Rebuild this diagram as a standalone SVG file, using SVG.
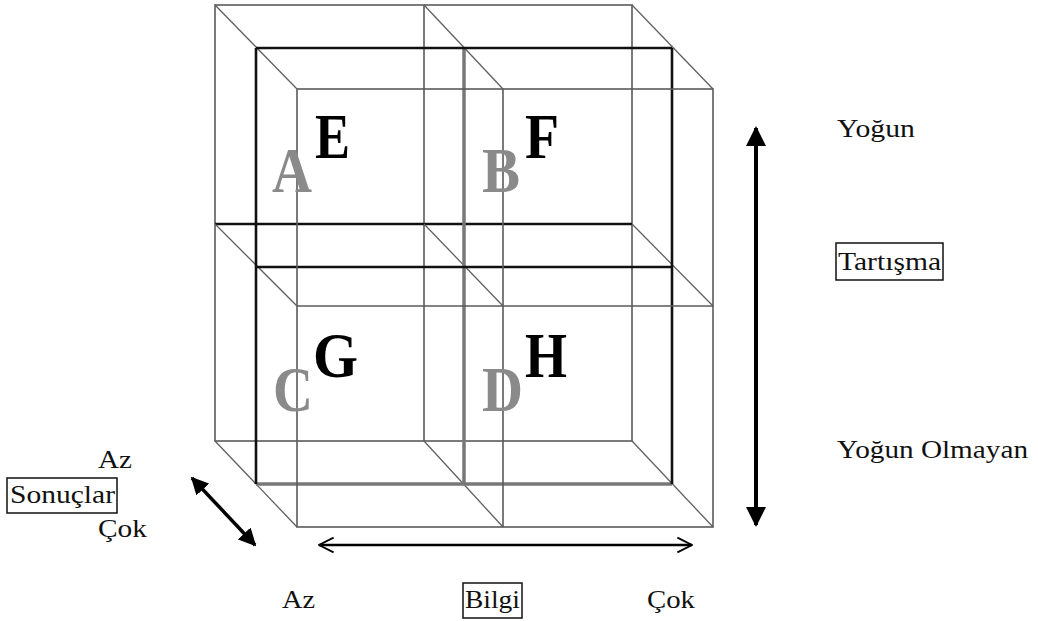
<svg xmlns="http://www.w3.org/2000/svg" width="1038" height="621" viewBox="0 0 1038 621">
<style>
.thin{stroke:#5a5a5a;stroke-width:1.6;fill:none}
.diag{stroke:#606060;stroke-width:1.3;fill:none}
.thick{stroke:#111;stroke-width:2.6;fill:none}
.gthick{stroke:#777;stroke-width:3.5;fill:none}
.gl{font-family:"Liberation Serif","Times New Roman",serif;font-weight:bold;font-size:64px;fill:#8a8a8a}
.bl{font-family:"Liberation Serif","Times New Roman",serif;font-weight:bold;font-size:64px;fill:#000}
.lab{font-family:"Liberation Serif","Times New Roman",serif;font-size:26px;fill:#111}
.box{fill:none;stroke:#111;stroke-width:1.5}
</style>
<defs>
<marker id="tri" viewBox="0 0 10 10" refX="9" refY="5" markerWidth="5" markerHeight="5" orient="auto-start-reverse" markerUnits="strokeWidth">
<path d="M0,0 L10,5 L0,10 z" fill="#000"/>
</marker>
<marker id="chev" viewBox="0 0 12 12" refX="11" refY="6" markerWidth="7" markerHeight="7" orient="auto-start-reverse" markerUnits="strokeWidth">
<path d="M1,1 L11,6 L1,11" fill="none" stroke="#000" stroke-width="1.3"/>
</marker>
</defs>
<rect width="1038" height="621" fill="#fff"/>
<g id="cube">
<g id="back-frame">
<rect class="thin" x="215" y="5" width="417" height="436"/>
<line class="thin" x1="424" y1="5" x2="424" y2="441"/>
<line class="thick" x1="215" y1="224" x2="632" y2="224"/>
</g>
<g id="diagonals">
<line class="diag" x1="215" y1="5" x2="297" y2="89"/>
<line class="diag" x1="424" y1="5" x2="503" y2="89"/>
<line class="diag" x1="632" y1="5" x2="713" y2="89"/>
<line class="diag" x1="215" y1="224" x2="297" y2="306"/>
<line class="diag" x1="424" y1="224" x2="503" y2="306"/>
<line class="diag" x1="632" y1="224" x2="713" y2="306"/>
<line class="diag" x1="215" y1="441" x2="297" y2="527"/>
<line class="diag" x1="424" y1="441" x2="503" y2="527"/>
<line class="diag" x1="632" y1="441" x2="713" y2="527"/>
</g>
<g id="middle-frame">
<line class="gthick" x1="464" y1="48" x2="464" y2="484"/>
<line class="gthick" x1="256" y1="484" x2="672" y2="484"/>
<line class="thick" x1="256" y1="48" x2="672" y2="48"/>
<line class="thick" x1="256" y1="267" x2="672" y2="267"/>
<line class="thick" x1="256" y1="48" x2="256" y2="484"/>
<line class="thick" x1="672" y1="48" x2="672" y2="484"/>
</g>
<g id="front-frame">
<rect class="thin" x="297" y="89" width="416" height="438"/>
<line class="thin" x1="503" y1="89" x2="503" y2="527"/>
<line class="thin" x1="297" y1="306" x2="713" y2="306"/>
</g>
</g>
<g id="cell-A"><text class="gl" x="272" y="192" textLength="40" lengthAdjust="spacingAndGlyphs">A</text></g>
<g id="cell-E"><text class="bl" x="315" y="158" textLength="35" lengthAdjust="spacingAndGlyphs">E</text></g>
<g id="cell-B"><text class="gl" x="482" y="192" textLength="38" lengthAdjust="spacingAndGlyphs">B</text></g>
<g id="cell-F"><text class="bl" x="525" y="158" textLength="34" lengthAdjust="spacingAndGlyphs">F</text></g>
<g id="cell-C"><text class="gl" x="273" y="411" textLength="40" lengthAdjust="spacingAndGlyphs">C</text></g>
<g id="cell-G"><text class="bl" x="313" y="377" textLength="45" lengthAdjust="spacingAndGlyphs">G</text></g>
<g id="cell-D"><text class="gl" x="482" y="411" textLength="41" lengthAdjust="spacingAndGlyphs">D</text></g>
<g id="cell-H"><text class="bl" x="525" y="377" textLength="42" lengthAdjust="spacingAndGlyphs">H</text></g>
<g id="connectors">
<line x1="756" y1="128" x2="756" y2="525" stroke="#000" stroke-width="4" marker-start="url(#tri)" marker-end="url(#tri)"/>
<line x1="192" y1="478" x2="255" y2="545" stroke="#000" stroke-width="3.5" marker-start="url(#tri)" marker-end="url(#tri)"/>
<line x1="319" y1="545" x2="692" y2="545" stroke="#000" stroke-width="2.5" marker-start="url(#chev)" marker-end="url(#chev)"/>
</g>
<g id="label-yogun"><text class="lab" x="837" y="137" textLength="78" lengthAdjust="spacingAndGlyphs">Yoğun</text></g>
<g id="label-tartisma"><rect class="box" x="836" y="243" width="107" height="37"/><text class="lab" x="838" y="270" textLength="103" lengthAdjust="spacingAndGlyphs">Tartışma</text></g>
<g id="label-yogun-olmayan"><text class="lab" x="837" y="458" textLength="191" lengthAdjust="spacingAndGlyphs">Yoğun Olmayan</text></g>
<g id="label-sonuclar"><rect class="box" x="7" y="478" width="110" height="35"/><text class="lab" x="10" y="503" textLength="105" lengthAdjust="spacingAndGlyphs">Sonuçlar</text></g>
<g id="label-az-left"><text class="lab" x="98" y="468" textLength="34" lengthAdjust="spacingAndGlyphs">Az</text></g>
<g id="label-cok-left"><text class="lab" x="98" y="537" textLength="49" lengthAdjust="spacingAndGlyphs">Çok</text></g>
<g id="label-az-bottom"><text class="lab" x="282" y="608" textLength="33" lengthAdjust="spacingAndGlyphs">Az</text></g>
<g id="label-bilgi"><rect class="box" x="463" y="583" width="59" height="35"/><text class="lab" x="465" y="608" textLength="55" lengthAdjust="spacingAndGlyphs">Bilgi</text></g>
<g id="label-cok-bottom"><text class="lab" x="647" y="608" textLength="48" lengthAdjust="spacingAndGlyphs">Çok</text></g>
</svg>
